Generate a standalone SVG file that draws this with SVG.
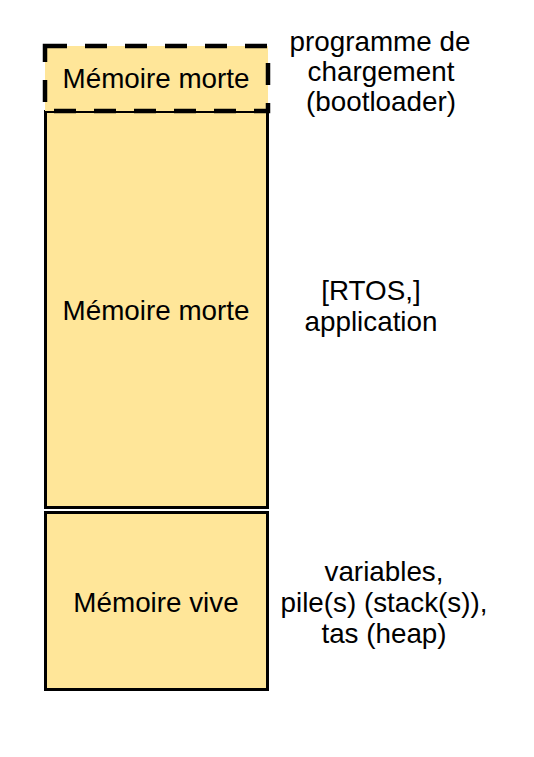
<svg xmlns="http://www.w3.org/2000/svg" width="534" height="757" viewBox="0 0 534 757">
<style>
.box{fill:#ffe699;stroke:#000;stroke-width:3}
.dash{fill:#ffe699;stroke:#000;stroke-width:4.5;stroke-dasharray:22 18}
text{font-family:"Liberation Sans",Arial,sans-serif;font-size:27.8px;fill:#000;text-anchor:middle}
</style>
<rect width="534" height="757" fill="#fff"/>
<g id="rom-app">
<rect class="box" x="45.5" y="111.5" width="222" height="396"/>
<text x="156" y="320">Mémoire morte</text>
</g>
<g id="rom-boot">
<rect class="dash" x="45" y="46" width="223" height="65"/>
<text x="156" y="88">Mémoire morte</text>
</g>
<g id="ram">
<rect class="box" x="45.5" y="512.5" width="222" height="177"/>
<text x="156" y="612">Mémoire vive</text>
</g>
<g id="labels">
<text x="380" y="51">programme de</text>
<text x="381" y="81">chargement</text>
<text x="381" y="111">(bootloader)</text>
<text x="371" y="300">[RTOS,]</text>
<text x="371" y="331">application</text>
<text x="384" y="581">variables,</text>
<text x="384" y="612">pile(s) (stack(s)),</text>
<text x="384" y="643">tas (heap)</text>
</g>
<g id="connectors"></g>
</svg>
